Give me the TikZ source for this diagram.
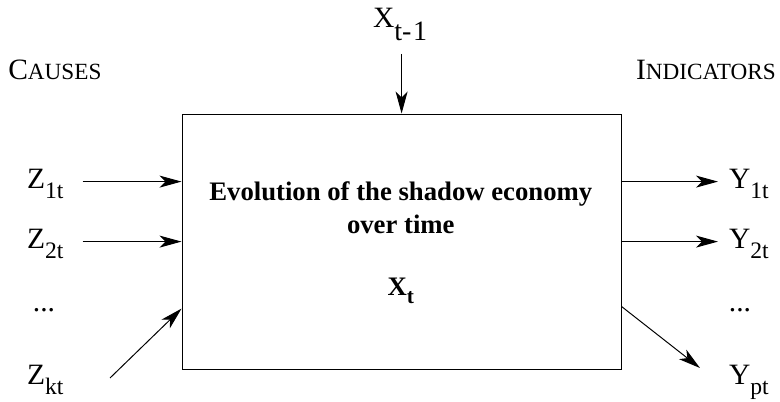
\documentclass[tikz,border=0pt]{standalone}
\usepackage{graphicx}
\usepackage{fontspec}
\setmainfont{Liberation Serif}
\usetikzlibrary{arrows.meta,positioning}

\newcommand{\idx}[3][0.8]{\raisebox{-#2em}{\scalebox{#1}{#3}}}
\newcommand{\fakesc}[2]{{\fontsize{21}{25}\selectfont #1}{\fontsize{16.5}{19}\selectfont #2}}

\begin{document}
\begin{tikzpicture}[
    node distance=0.6cm and 1.0cm,
    econbox/.style={rectangle, draw, line width=0.8pt, minimum width=10.975cm, minimum height=6.375cm, inner sep=0pt},
    var/.style={font=\fontsize{21}{25}\selectfont, inner sep=2pt},
    head/.style={inner sep=0pt},
    inbox/.style={font=\fontsize{19}{23.5}\selectfont\bfseries, align=center},
    arrow/.style={-{Stealth[length=5.5mm, width=3mm, inset=1.5mm]}, line width=0.7pt}
]
    \useasboundingbox (0,0) rectangle (19.5,-10.05);

    \node[econbox] (econ) at (10.04,-6.04) {};
    \node[inbox] (evol) at (10.02,-5.2) {Evolution of the shadow economy\\over time};
    \node[inbox, below=0.85cm of evol] (xt) {X\idx{0.3}{t}};

    \node[var, anchor=base west] (xprev) at (9.25,-0.7) {X\idx[0.95]{0.42}{t-\kern0.06em1}};
    \node[head, anchor=base west] (causes) at (0.2,-2.0) {\fakesc{C}{AUSES}};
    \node[head, anchor=base east] (indicators) at (19.4,-2.0) {\fakesc{I}{NDICATORS}};

    % causes on the left
    \node[var, anchor=base west] (z1) at (0.6,-4.725) {Z\idx{0.33}{1t}};
    \node[var, anchor=base west] (z2) at (0.6,-6.225) {Z\idx{0.33}{2t}};
    \node[var] (zdots) at (1.1,-7.75) {...};
    \node[var, anchor=base west] (zk) at (0.6,-9.625) {Z\idx{0.33}{kt}};

    % indicators on the right
    \node[var, anchor=base west] (y1) at (18.15,-4.725) {Y\idx{0.33}{1t}};
    \node[var, anchor=base west] (y2) at (18.15,-6.225) {Y\idx{0.33}{2t}};
    \node[var] (ydots) at (18.5,-7.75) {...};
    \node[var, anchor=base west] (ypt) at (18.15,-9.625) {Y\idx{0.33}{pt}};

    \coordinate (zktail) at (2.75,-9.45);
    \coordinate (ypthead) at (17.5,-9.2);

    \draw[arrow, shorten <=0.25cm] (econ.north |- xprev.south) -- (econ.north);
    \draw[arrow, shorten <=0.4cm] ([yshift=1.5cm]econ.west -| z1.east) -- ([yshift=1.5cm]econ.west);
    \draw[arrow, shorten <=0.4cm] (econ.west -| z2.east) -- (econ.west);
    \draw[arrow] (zktail) -- ([yshift=-1.675cm]econ.west);
    \draw[arrow, shorten >=0.2cm] ([yshift=1.5cm]econ.east) -- ([yshift=1.5cm]econ.east -| y1.west);
    \draw[arrow, shorten >=0.2cm] (econ.east) -- (econ.east -| y2.west);
    \draw[arrow] ([yshift=-1.625cm]econ.east) -- (ypthead);
\end{tikzpicture}
\end{document}
